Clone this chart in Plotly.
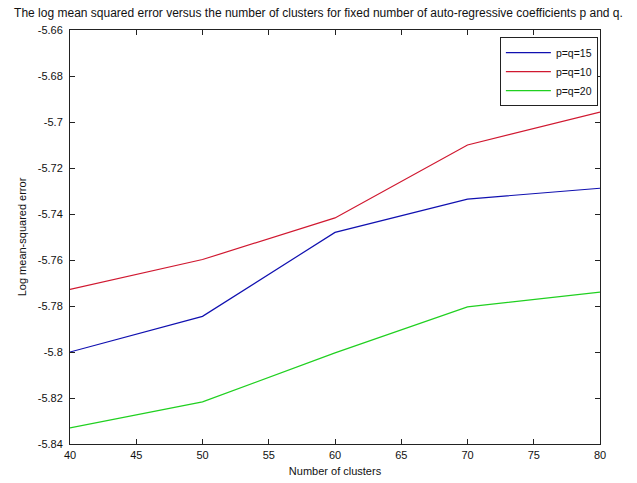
import plotly.graph_objects as go

clusters = [40, 50, 60, 70, 80]
pq15 = [-5.800, -5.7845, -5.748, -5.7335, -5.7288]
pq10 = [-5.7728, -5.7598, -5.7417, -5.7100, -5.6957]
pq20 = [-5.8330, -5.8217, -5.8004, -5.7804, -5.7740]

x_ticks = [40, 45, 50, 55, 60, 65, 70, 75, 80]
y_ticks = [-5.66, -5.68, -5.7, -5.72, -5.74, -5.76, -5.78, -5.8, -5.82, -5.84]
y_tick_labels = ["-5.66", "-5.68", "-5.7", "-5.72", "-5.74", "-5.76", "-5.78", "-5.8", "-5.82", "-5.84"]

font = "Liberation Sans, Arial, sans-serif"

fig = go.Figure()
fig.add_trace(go.Scatter(x=clusters, y=pq15, mode="lines", name="p=q=15",
                         line=dict(color="#1010b0", width=1.2)))
fig.add_trace(go.Scatter(x=clusters, y=pq10, mode="lines", name="p=q=10",
                         line=dict(color="#d01830", width=1.2)))
fig.add_trace(go.Scatter(x=clusters, y=pq20, mode="lines", name="p=q=20",
                         line=dict(color="#20d020", width=1.2)))

axis_common = dict(showgrid=False, zeroline=False, showline=True, linecolor="#222",
                   linewidth=1, mirror="ticks", ticks="inside", ticklen=5,
                   tickcolor="#222", automargin=False,
                   tickfont=dict(family=font, size=11, color="#111"))

fig.update_layout(
    width=637, height=483,
    margin=dict(l=70, r=37, t=30, b=39),
    paper_bgcolor="white", plot_bgcolor="white",
    title=dict(text="The log mean squared error versus the number of clusters for fixed number of auto-regressive coefficients p and q.",
               x=0.5, xanchor="center", y=0.983, yanchor="top",
               font=dict(family=font, size=12, color="#111")),
    xaxis=dict(range=[40, 80], tickvals=x_ticks, ticklabelstandoff=1,
               title=dict(text="Number of clusters", standoff=7,
                          font=dict(family=font, size=11, color="#111")),
               **axis_common),
    yaxis=dict(range=[-5.84, -5.66], tickvals=y_ticks, ticktext=y_tick_labels,
               ticklabelstandoff=4,
               title=dict(text="Log mean-squared error", standoff=8,
                          font=dict(family=font, size=11, color="#111")),
               **axis_common),
    legend=dict(x=0.996, xanchor="right", y=0.983, yanchor="top",
                bgcolor="white", bordercolor="#222", borderwidth=1,
                font=dict(family=font, size=10.5, color="#111"),
                itemwidth=45, tracegroupgap=0),
    showlegend=True,
)

fig.write_html("out.html", config={"displayModeBar": False},
               post_script="document.body.style.margin='0';document.body.style.padding='0';")
